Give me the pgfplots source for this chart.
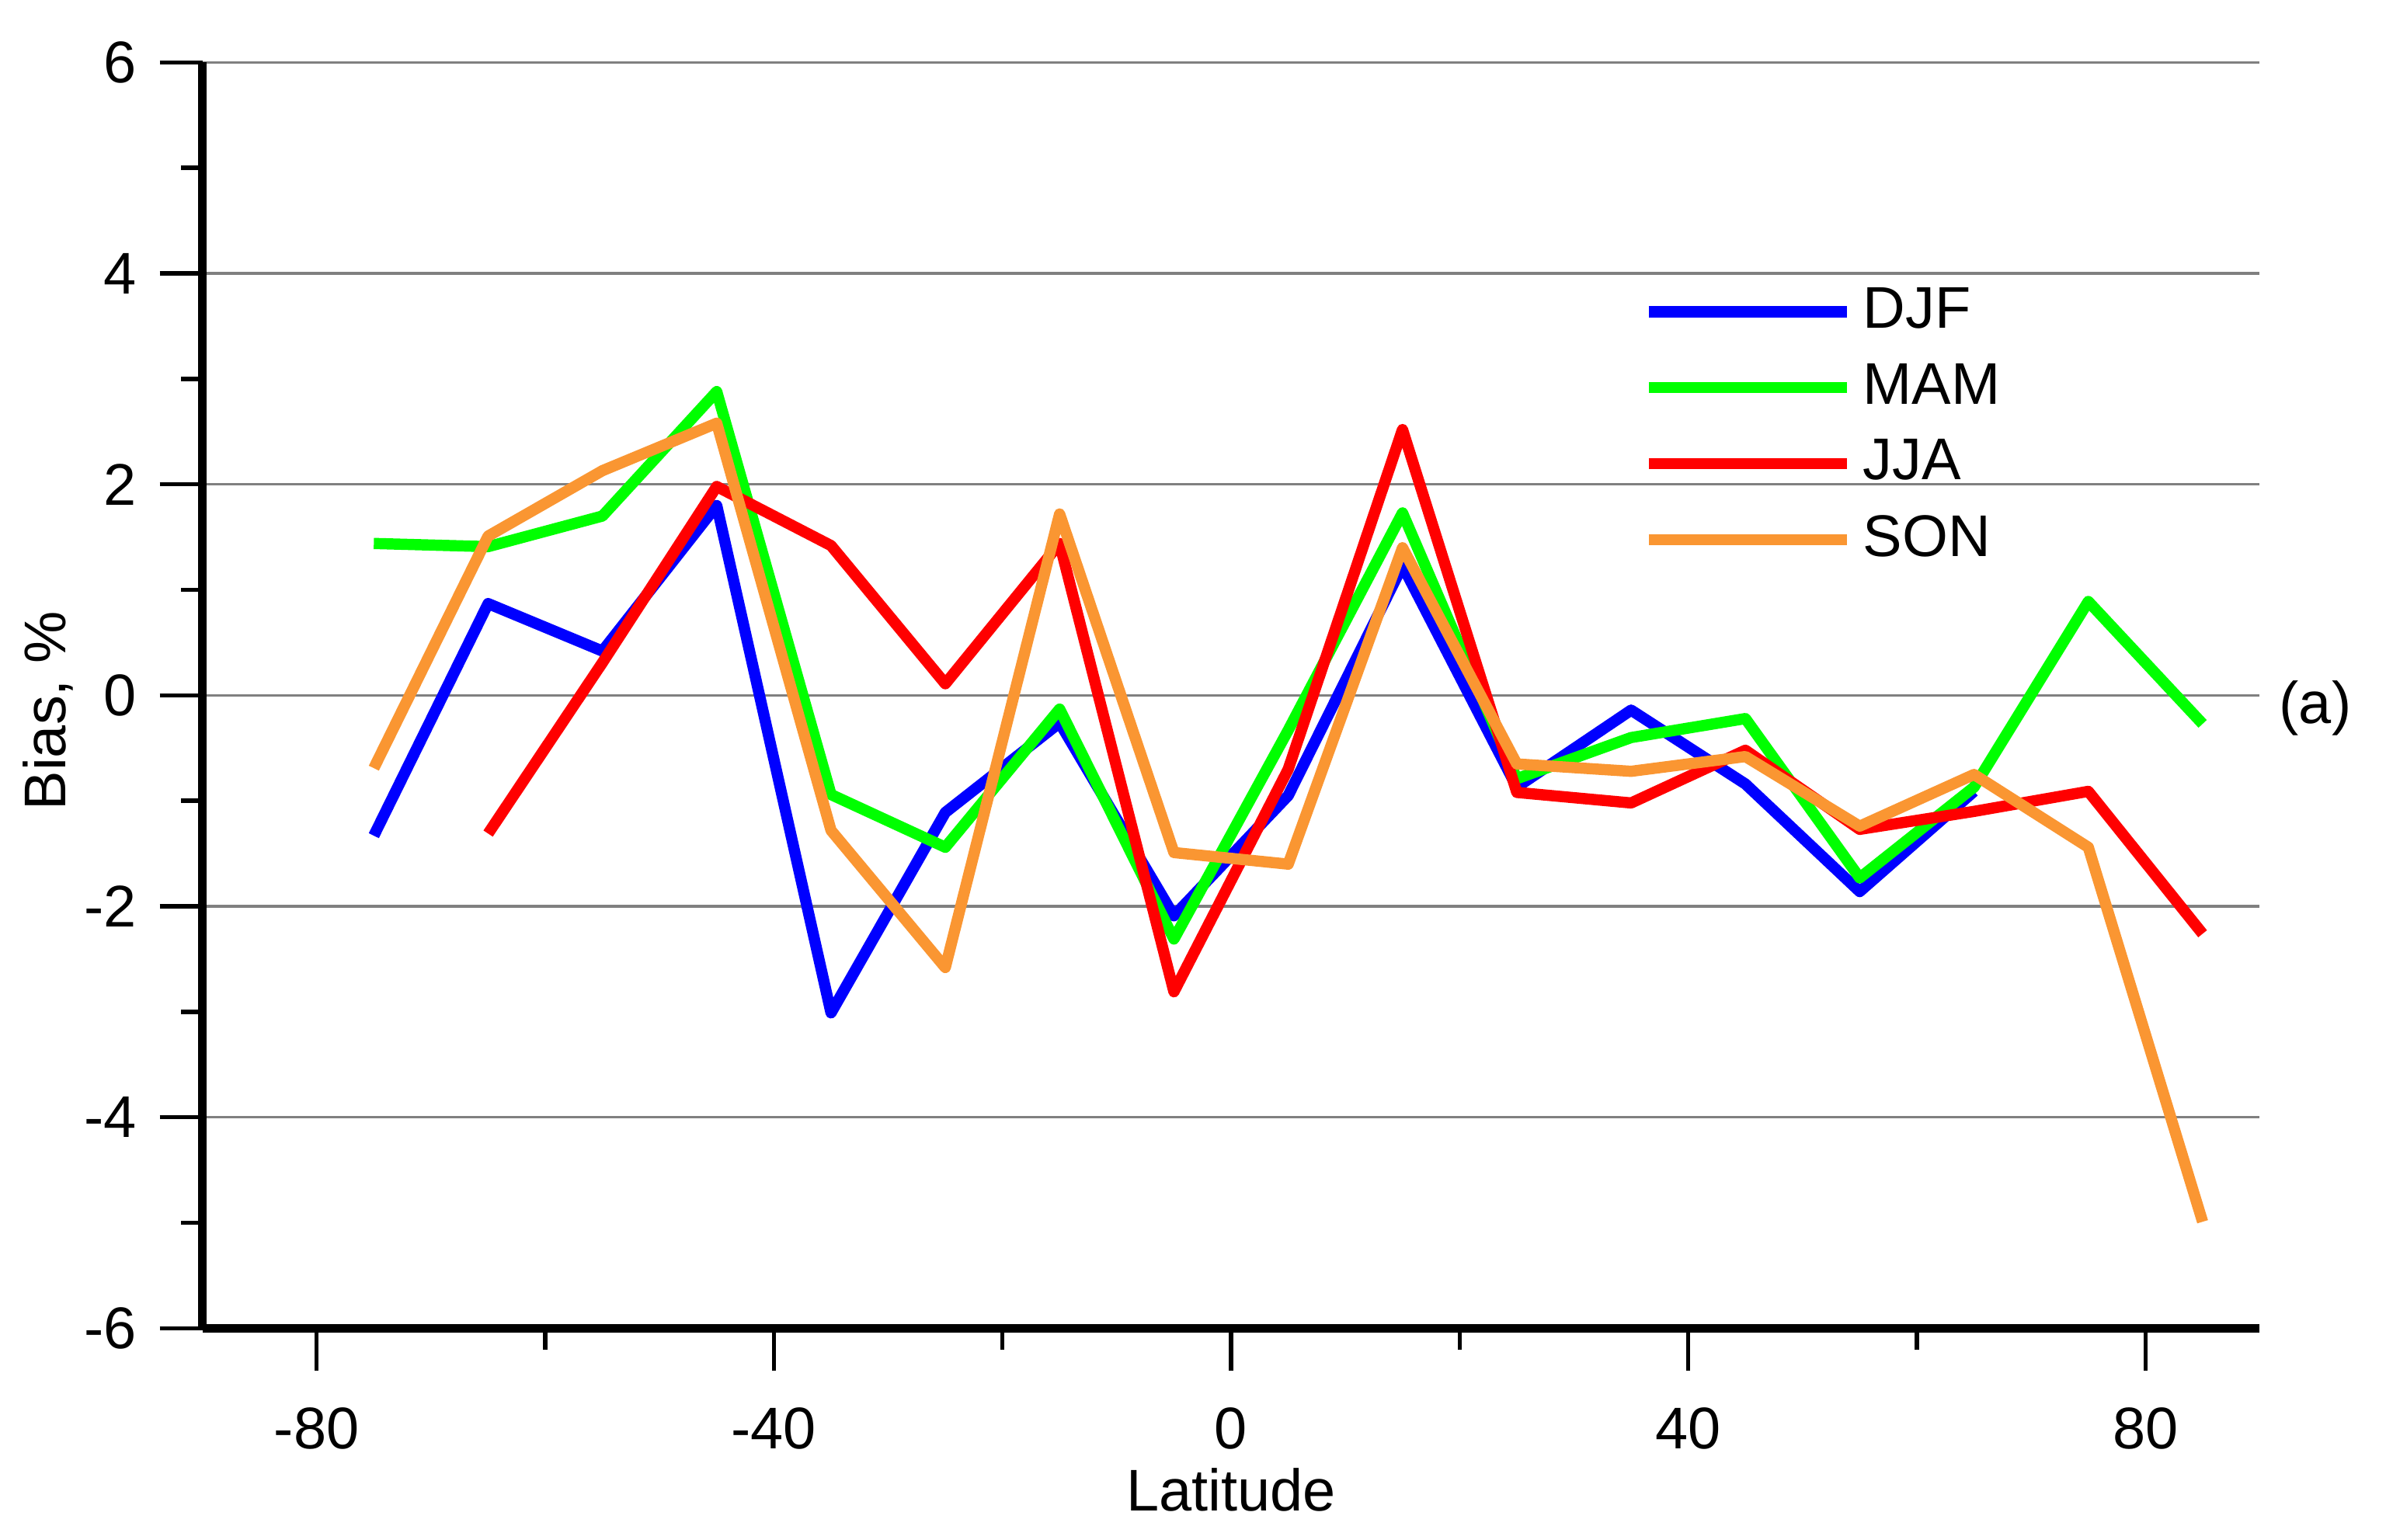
\documentclass[border=0pt]{standalone}
\usepackage{fontspec}
\setmainfont{Liberation Sans}
\usepackage{pgfplots}
\pgfplotsset{compat=1.18}

\definecolor{cdjf}{RGB}{0,0,255}
\definecolor{cmam}{RGB}{0,255,0}
\definecolor{cjja}{RGB}{255,0,0}
\definecolor{cson}{RGB}{250,150,50}

\begin{document}
\begin{tikzpicture}
  % page frame around the axis box, as in the reference
  \useasboundingbox (-1.33,-1.39) rectangle (14.35,8.73);
  \begin{axis}[
    at={(0,0)}, anchor=south west,
    scale only axis,
    width=13.52cm, height=8.32cm,
    xmin=-90, xmax=90, ymin=-6, ymax=6,
    axis x line*=bottom, axis y line*=left,
    axis line style={line width=1.5pt},
    xtick={-80,-40,0,40,80}, minor xtick={-60,-20,20,60},
    ytick={-6,-4,-2,0,2,4,6}, minor ytick={-5,-3,-1,1,3,5},
    tick align=outside,
    major tick length=0.28cm, minor tick length=0.14cm,
    tick style={black, line width=0.8pt},
    ymajorgrids, grid style={gray, line width=0.5pt},
    font=\fontsize{11}{13}\selectfont,
    /pgf/number format/assume math mode=true,
    xticklabel style={yshift=-0.12cm},
    yticklabel style={xshift=-0.03cm},
    xlabel={Latitude}, ylabel={Bias, \%},
    xlabel style={yshift=0.12cm},
    ylabel style={yshift=-0.17cm, xshift=-0.1cm},
    legend style={at={(rel axis cs:0.692,0.84)}, anchor=north west,
      draw=none, fill=none, row sep=0.04cm},
    legend cell align=left,
    legend image code/.code={\draw[#1] (0cm,0cm) -- (1.3cm,0cm);},
    every axis plot/.append style={line width=2.1pt, line join=round},
    clip=false,
  ]
    % DJF
    \addplot[cdjf] coordinates {
      (-75,-1.33) (-65,0.87) (-55,0.42) (-45,1.80) (-35,-3.01) (-25,-1.11)
      (-15,-0.26) (-5,-2.09) (5,-0.95) (15,1.23) (25,-0.87) (35,-0.14)
      (45,-0.84) (55,-1.86) (65,-0.91)
    };
    \addlegendentry{DJF}
    % MAM
    \addplot[cmam] coordinates {
      (-75,1.44) (-65,1.41) (-55,1.70) (-45,2.88) (-35,-0.94) (-25,-1.44)
      (-15,-0.13) (-5,-2.31) (5,-0.33) (15,1.73) (25,-0.79) (35,-0.40)
      (45,-0.22) (55,-1.73) (65,-0.87) (75,0.89) (85,-0.27)
    };
    \addlegendentry{MAM}
    % JJA
    \addplot[cjja] coordinates {
      (-65,-1.31) (-55,0.31) (-45,1.98) (-35,1.42) (-25,0.11) (-15,1.44)
      (-5,-2.81) (5,-0.70) (15,2.52) (25,-0.92) (35,-1.02) (45,-0.52)
      (55,-1.27) (65,-1.10) (75,-0.91) (85,-2.26)
    };
    \addlegendentry{JJA}
    % SON
    \addplot[cson] coordinates {
      (-75,-0.69) (-65,1.51) (-55,2.13) (-45,2.58) (-35,-1.28) (-25,-2.58)
      (-15,1.72) (-5,-1.49) (5,-1.60) (15,1.40) (25,-0.65) (35,-0.72)
      (45,-0.58) (55,-1.24) (65,-0.75) (75,-1.44) (85,-4.99)
    };
    \addlegendentry{SON}
    \node[anchor=west, inner sep=0pt] at (rel axis cs:1.009,0.49) {(a)};
  \end{axis}
\end{tikzpicture}
\end{document}
